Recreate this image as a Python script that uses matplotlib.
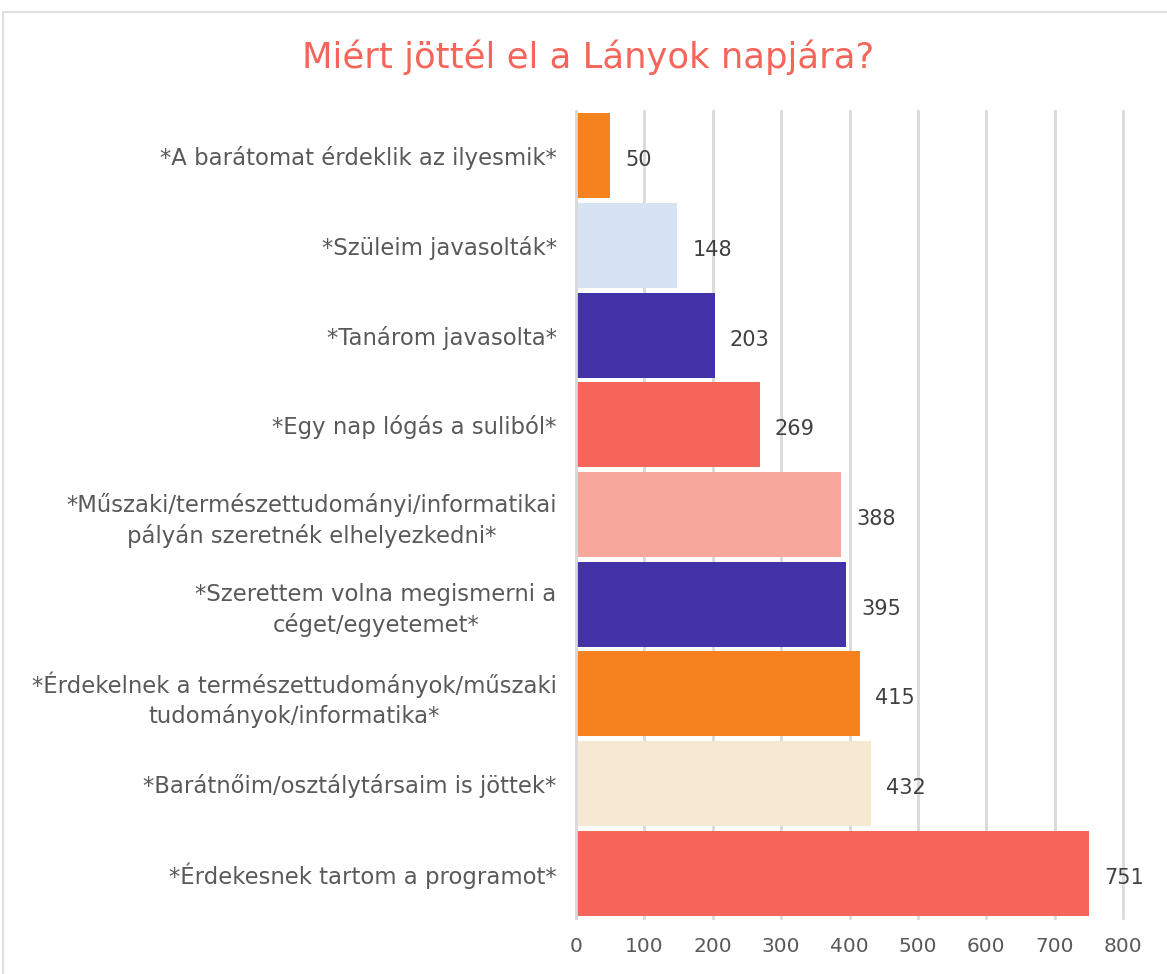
import matplotlib.pyplot as plt
from matplotlib.patches import Rectangle

# Adatok (fentről lefelé)
categories = [
    "*A barátomat érdeklik az ilyesmik*",
    "*Szüleim javasolták*",
    "*Tanárom javasolta*",
    "*Egy nap lógás a suliból*",
    "*Műszaki/természettudományi/informatikai\npályán szeretnék elhelyezkedni*",
    "*Szerettem volna megismerni a\ncéget/egyetemet*",
    "*Érdekelnek a természettudományok/műszaki\ntudományok/informatika*",
    "*Barátnőim/osztálytársaim is jöttek*",
    "*Érdekesnek tartom a programot*",
]
values = [50, 148, 203, 269, 388, 395, 415, 432, 751]
colors = ["#F5821F", "#D5E3F2", "#4233A8", "#F5655A", "#F5A89B",
          "#4233A8", "#F5821F", "#F6E8D1", "#F5655A"]
xticks = [0, 100, 200, 300, 400, 500, 600, 700, 800]

plt.rcParams['font.family'] = ['DejaVu Sans']

fig = plt.figure(figsize=(11.67, 9.74), dpi=100)
ax = fig.add_axes([576 / 1167, 1 - 918 / 974, (1123 - 576) / 1167, (918 - 111) / 974])

# Keret a diagram körül
fig.patches.append(Rectangle((3 / 1167, -0.1), 1.2, 1 - 12 / 974 + 0.1,
                             transform=fig.transFigure, fill=False,
                             edgecolor='#D9D9D9', linewidth=1.2))

y = range(len(values))
ax.barh(y, values, height=0.95, color=colors, zorder=2)

for i, v in enumerate(values):
    ax.text(v + 22, i + 0.05, str(v), va='center', ha='left',
            fontsize=15, color='#404040')

ax.set_xlim(0, 800)
ax.set_ylim(len(values) - 0.5, -0.5)
ax.set_xticks(xticks)
ax.set_xticklabels([str(t) for t in xticks], fontsize=14.5, color='#595959')
ax.set_yticks(list(y))
ax.set_yticklabels(categories, fontsize=16.4, color='#595959',
                   ha='right', multialignment='center', linespacing=1.35)
ax.tick_params(axis='both', length=0)
ax.tick_params(axis='x', pad=14)
ax.tick_params(axis='y', pad=14)

ax.grid(axis='x', color='#D9D9D9', linewidth=2, zorder=0)
ax.set_axisbelow(True)
for line in ax.get_xgridlines():
    line.set_clip_on(False)
for s in ['top', 'right', 'bottom']:
    ax.spines[s].set_visible(False)
ax.spines['left'].set_color('#D9D9D9')
ax.spines['left'].set_linewidth(2)

fig.text(588 / 1167, 1 - 57 / 974, "Miért jöttél el a Lányok napjára?",
         ha='center', va='center', fontsize=25.5, color='#F5655A')

fig.savefig('out.png', dpi=100)
